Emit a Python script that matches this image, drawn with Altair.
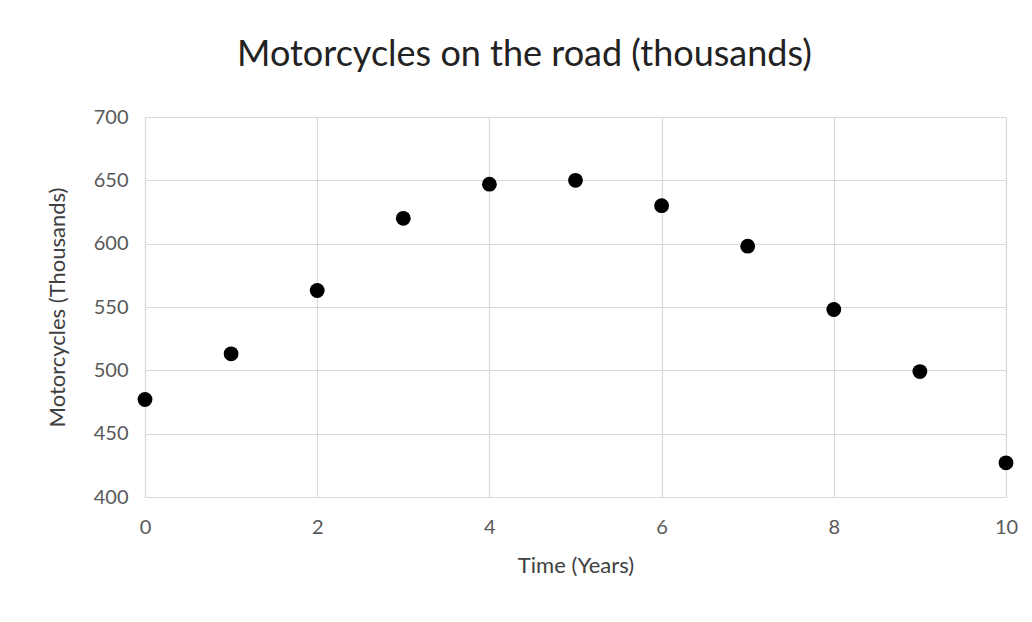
import altair as alt
import pandas as pd

years = [0, 1, 2, 3, 4, 5, 6, 7, 8, 9, 10]
motorcycles = [477, 513, 563, 620, 647, 650, 630, 598, 548, 499, 427]

df = pd.DataFrame({"Time": years, "Motorcycles": motorcycles})

font = "Lato"
grey = "#595959"

points = alt.Chart(df).mark_circle(size=220, color="black", opacity=1).encode(
    x=alt.X("Time:Q",
            scale=alt.Scale(domain=[0, 10], nice=False, zero=False),
            axis=alt.Axis(title="Time (Years)", values=[0, 2, 4, 6, 8, 10],
                          ticks=False, labelPadding=20, titlePadding=18,
                          labelFlush=False)),
    y=alt.Y("Motorcycles:Q",
            scale=alt.Scale(domain=[400, 700], nice=False, zero=False),
            axis=alt.Axis(title="Motorcycles (Thousands)",
                          values=[400, 450, 500, 550, 600, 650, 700],
                          ticks=False, labelPadding=17, titlePadding=24)),
)

chart = points.properties(
    width=861,
    height=380,
    background="white",
    title=alt.TitleParams("Motorcycles on the road (thousands)", fontSize=36,
                          font=font, fontWeight="normal", color="#222222",
                          offset=33, anchor="middle", dx=-51),
    autosize=alt.AutoSizeParams(type="none"),
    padding={"left": 137, "top": 109, "right": 18, "bottom": 90},
).configure_view(stroke=None).configure_axis(
    labelFont=font, titleFont=font, labelFontSize=20, titleFontSize=22,
    labelColor=grey, titleColor="#404040", titleFontWeight="normal",
    gridColor="#d9d9d9", domainColor="#d9d9d9", gridWidth=1.2,
)

chart.save("out.html", embed_options={"renderer": "svg", "actions": False})
